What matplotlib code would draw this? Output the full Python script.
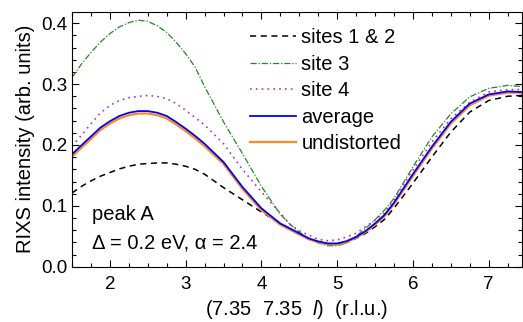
import matplotlib
matplotlib.use("Agg")
import matplotlib.pyplot as plt
import numpy as np

# momentum transfer l (r.l.u.) and intensities
l_values = [1.5, 1.625, 1.75, 1.875, 2.0, 2.125, 2.25, 2.375, 2.5, 2.625, 2.75, 2.875,
            3.0, 3.125, 3.25, 3.5, 3.75, 4.0, 4.25, 4.375, 4.5, 4.625, 4.75, 4.875,
            5.0, 5.125, 5.25, 5.375, 5.5, 5.625, 5.75, 6.0, 6.25, 6.5, 6.75, 7.0, 7.25, 7.44]
sites_1_2 = [0.121, 0.132, 0.141, 0.1487, 0.1547, 0.1607, 0.165, 0.1684, 0.1695, 0.1705, 0.1705, 0.1684,
             0.165, 0.160, 0.152, 0.130, 0.110, 0.090, 0.071, 0.062, 0.053, 0.046, 0.041, 0.0366,
             0.0366, 0.040, 0.0466, 0.0548, 0.0656, 0.0777, 0.096, 0.137, 0.180, 0.221, 0.254, 0.273, 0.280, 0.2815]
site_3 = [0.311, 0.333, 0.352, 0.369, 0.383, 0.394, 0.401, 0.405, 0.403, 0.396, 0.385, 0.369,
          0.350, 0.328, 0.296, 0.238, 0.186, 0.132, 0.086, 0.070, 0.057, 0.046, 0.039, 0.0345,
          0.0345, 0.039, 0.050, 0.063, 0.077, 0.093, 0.112, 0.164, 0.213, 0.251, 0.279, 0.293, 0.298, 0.296]
site_4 = [0.198, 0.216, 0.235, 0.2525, 0.265, 0.273, 0.2777, 0.2798, 0.2815, 0.2798, 0.276, 0.268,
          0.257, 0.245, 0.233, 0.202, 0.160, 0.123, 0.088, 0.070, 0.059, 0.052, 0.045, 0.0427,
          0.0438, 0.049, 0.055, 0.0656, 0.0766, 0.0885, 0.110, 0.159, 0.205, 0.243, 0.270, 0.287, 0.291, 0.291]
average = [0.1847, 0.1995, 0.214, 0.2285, 0.239, 0.2476, 0.253, 0.2557, 0.2557, 0.253, 0.2476, 0.2377,
           0.2268, 0.215, 0.202, 0.172, 0.131, 0.096, 0.071, 0.063, 0.0548, 0.0466, 0.0416, 0.0383,
           0.0383, 0.042, 0.049, 0.0585, 0.071, 0.085, 0.105, 0.152, 0.197, 0.238, 0.268, 0.283, 0.288, 0.287]
undistorted = [0.181, 0.1955, 0.210, 0.2245, 0.235, 0.2436, 0.249, 0.2517, 0.2517, 0.249, 0.2436, 0.2337,
               0.2228, 0.211, 0.198, 0.169, 0.128, 0.093, 0.069, 0.061, 0.053, 0.045, 0.040, 0.0368,
               0.0368, 0.0405, 0.0475, 0.057, 0.069, 0.083, 0.103, 0.149, 0.194, 0.235, 0.265, 0.281, 0.286, 0.286]

plt.rcParams["font.family"] = ["Liberation Sans", "DejaVu Sans"]
plt.rcParams["mathtext.fontset"] = "custom"
plt.rcParams["mathtext.rm"] = "Liberation Sans"
plt.rcParams["mathtext.it"] = "Liberation Sans:italic"

fig = plt.figure(figsize=(5.23, 3.22), dpi=100)
ax = fig.add_axes([0.1377, 0.1717, 0.8603, 0.792])

ax.plot(l_values, sites_1_2, color="black", lw=1.1, ls=(0, (4, 3)), label="sites 1 & 2")
ax.plot(l_values, site_3, color="#1f8a1f", lw=0.9, ls=(0, (5, 1.5, 1, 1.5)), label="site 3")
ax.plot(l_values, site_4, color="#b030c0", lw=1.2, ls=(0, (1, 2.5)), label="site 4")
ax.plot(l_values, undistorted, color="#ff8c1a", lw=1.6, label="undistorted")
ax.plot(l_values, average, color="#0000ff", lw=1.3, label="average")

ax.set_xlim(1.5, 7.44)
ax.set_ylim(0, 0.419)
ax.set_xticks([2, 3, 4, 5, 6, 7])
ax.set_xticks(np.arange(1.5, 7.45, 0.25), minor=True)
ax.set_yticks([0.0, 0.1, 0.2, 0.3, 0.4])
ax.set_yticks(np.arange(0, 0.42, 0.02), minor=True)
ax.yaxis.set_major_formatter(matplotlib.ticker.FormatStrFormatter("%.1f"))
ax.tick_params(which="both", direction="in", top=True, right=True, labelsize=13.5)
ax.tick_params(which="major", length=5, width=0.8)
ax.tick_params(axis="x", which="major", pad=7)
ax.tick_params(which="minor", length=3, width=0.8)

ax.set_ylabel("RIXS intensity (arb. units)", fontsize=14.5, labelpad=4)
ax.set_xlabel("(7.35  7.35  $l$)  (r.l.u.)", fontsize=14.5, labelpad=3)

ax.text(0.045, 0.203, "peak A", transform=ax.transAxes, fontsize=14.5, va="center")
ax.text(0.045, 0.093, "Δ = 0.2 eV, α = 2.4", transform=ax.transAxes, fontsize=14.5, va="center")

handles, labels = ax.get_legend_handles_labels()
order = [0, 1, 2, 4, 3]
ax.legend([handles[i] for i in order], [labels[i] for i in order],
          loc="upper left", bbox_to_anchor=(0.3956, 0.935), frameon=False,
          fontsize=14.5, handlelength=2.3, handletextpad=0.25, labelspacing=0.37,
          borderpad=0, borderaxespad=0)

fig.savefig("out.png", dpi=100)
